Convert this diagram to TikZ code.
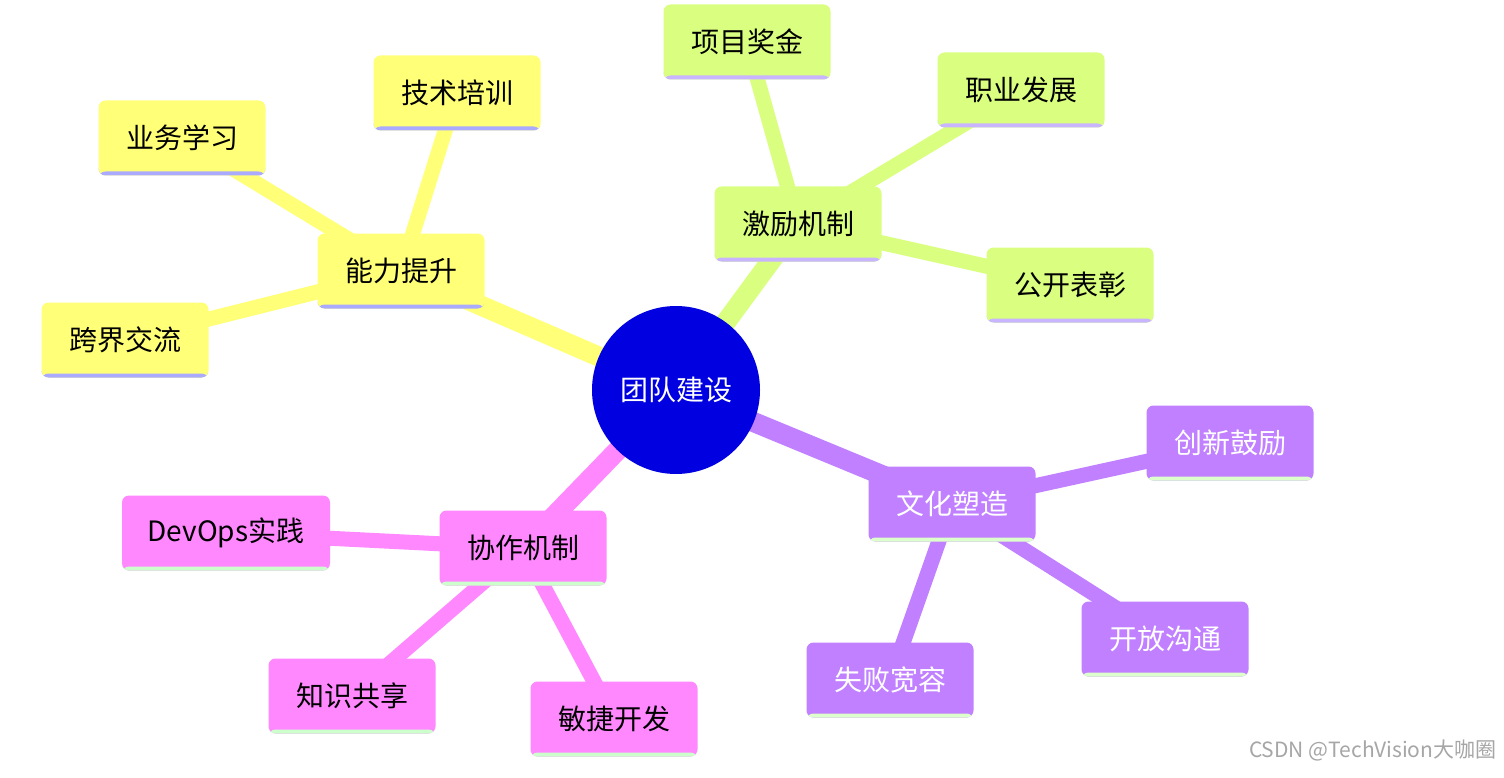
\documentclass[tikz,border=0pt]{standalone}
\usepackage{fontspec}
\setmainfont{Noto Sans CJK SC}
\begin{document}
\begin{tikzpicture}[x=1pt,y=-1pt,
  box/.style={rounded corners=7pt,minimum width=167pt,minimum height=75pt,inner sep=0pt,font=\fontsize{28}{30}\selectfont,
    path picture={\fill[#1] ([yshift=4pt]path picture bounding box.south west) rectangle (path picture bounding box.south east);}},
  yb/.style={box=LineY,fill=FillY,text=black},
  gb/.style={box=LineG,fill=FillG,text=black},
  pb/.style={box=LineP,fill=FillP,text=white},
  mb/.style={box=LineM,fill=FillM,text=black},
  e1/.style={line width=20pt},
  e2/.style={line width=15pt}]
\definecolor{FillY}{HTML}{FFFF78}\definecolor{LineY}{HTML}{AAAAFF}
\definecolor{FillG}{HTML}{DAFF80}\definecolor{LineG}{HTML}{C8B4FF}
\definecolor{FillP}{HTML}{C080FF}\definecolor{LineP}{HTML}{DDFFCC}
\definecolor{FillM}{HTML}{FF88FF}\definecolor{LineM}{HTML}{CCFFCC}
\useasboundingbox[fill=white] (0,0) rectangle (1504,778);
\coordinate (r) at (676,390);
\coordinate (a) at (401,271);\coordinate (a1) at (182,138);\coordinate (a2) at (457,93);\coordinate (a3) at (125,340);
\coordinate (b) at (798,224);\coordinate (b1) at (747,42);\coordinate (b2) at (1021,90);\coordinate (b3) at (1070,285);
\coordinate (c) at (952,504);\coordinate (c1) at (1230,443);\coordinate (c2) at (1165,639);\coordinate (c3) at (890,680);
\coordinate (d) at (523,548);\coordinate (d1) at (226,533);\coordinate (d2) at (352,696);\coordinate (d3) at (614,719);
\draw[e1,FillY] (r)--(a); \draw[e2,FillY] (a)--(a1) (a)--(a2) (a)--(a3);
\draw[e1,FillG] (r)--(b); \draw[e2,FillG] (b)--(b1) (b)--(b2) (b)--(b3);
\draw[e1,FillP] (r)--(c); \draw[e2,FillP] (c)--(c1) (c)--(c2) (c)--(c3);
\draw[e1,FillM] (r)--(d); \draw[e2,FillM] (d)--(d1) (d)--(d2) (d)--(d3);
\node[circle,fill=blue!88!black,minimum size=168pt,text=white,font=\fontsize{28}{30}\selectfont] (root) at (r) {团队建设};
\node[yb] (na) at (a) {能力提升};
\node[yb] (na1) at (a1) {业务学习};
\node[yb] (na2) at (a2) {技术培训};
\node[yb] (na3) at (a3) {跨界交流};
\node[gb] (nb) at (b) {激励机制};
\node[gb] (nb1) at (b1) {项目奖金};
\node[gb] (nb2) at (b2) {职业发展};
\node[gb] (nb3) at (b3) {公开表彰};
\node[pb] (nc) at (c) {文化塑造};
\node[pb] (nc1) at (c1) {创新鼓励};
\node[pb] (nc2) at (c2) {开放沟通};
\node[pb] (nc3) at (c3) {失败宽容};
\node[mb] (nd) at (d) {协作机制};
\node[mb,minimum width=208pt] (nd1) at (d1) {DevOps实践};
\node[mb] (nd2) at (d2) {知识共享};
\node[mb] (nd3) at (d3) {敏捷开发};
\node[anchor=east,text=gray!70,font=\fontsize{21}{23}\selectfont] (wm) at (1500,750) {CSDN @TechVision大咖圈};
\end{tikzpicture}
\end{document}
